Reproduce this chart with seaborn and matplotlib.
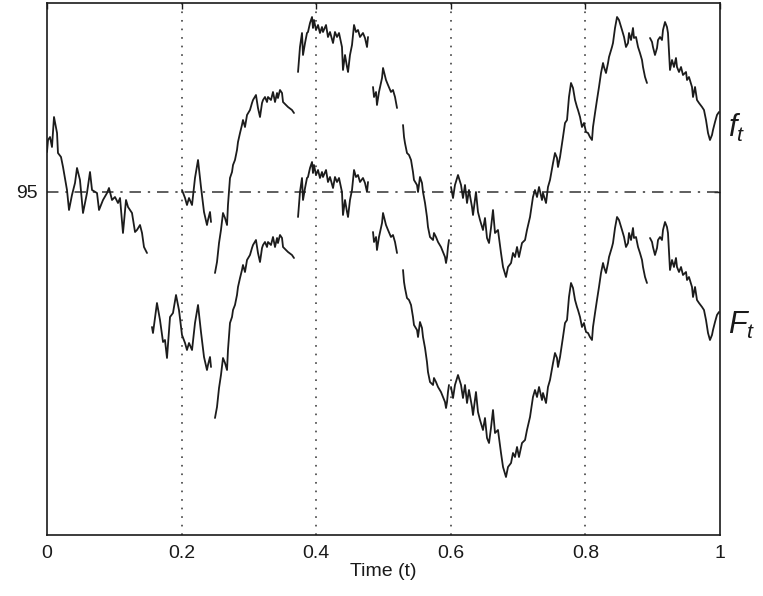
import numpy as np
import pandas as pd
import seaborn as sns
import matplotlib.pyplot as plt

# f_t (it jumps between pieces)
t_a = [0.000, 0.0015, 0.0045, 0.0074, 0.0104, 0.0149, 0.0163, 0.0208, 0.0238, 0.0297, 0.0327,
       0.0371, 0.0416, 0.0446, 0.0490, 0.0535, 0.0594, 0.0639, 0.0669, 0.0743, 0.0773, 0.0832,
       0.0892, 0.0921, 0.0966, 0.1010, 0.1055, 0.1085, 0.1129, 0.1174, 0.1204, 0.1263, 0.1308,
       0.1337, 0.1382, 0.1412, 0.1441, 0.1486]
f_a = [97.0, 97.6, 97.75, 97.25, 98.75, 97.95, 96.95, 96.75, 96.25, 95.1, 94.1,
       94.85, 95.45, 96.2, 95.6, 93.95, 94.95, 96.0, 95.1, 94.95, 94.1, 94.6,
       94.95, 95.2, 94.6, 94.75, 94.45, 94.7, 92.95, 94.6, 94.25, 93.95, 93.0,
       93.1, 93.35, 92.95, 92.25, 91.95]

t_b = [0.156, 0.1575, 0.1634, 0.1679, 0.1724, 0.1753, 0.1783, 0.1828, 0.1872, 0.1917, 0.1961,
       0.2006, 0.2051, 0.2080, 0.2110, 0.2155, 0.2199, 0.2244, 0.2288, 0.2333, 0.2377, 0.2392,
       0.2422, 0.2437]
f_b = [95.5, 95.2, 96.7, 95.85, 94.75, 94.85, 93.95, 96.0, 96.2, 97.1, 96.35,
       95.1, 94.7, 94.35, 94.7, 94.35, 95.7, 96.6, 95.25, 94.0, 93.35, 93.6,
       94.0, 93.5]

t_c = [0.2496, 0.2526, 0.2556, 0.2585, 0.2615, 0.2645, 0.2675, 0.2689, 0.2719, 0.2749, 0.2764,
       0.2793, 0.2823, 0.2838, 0.2868, 0.2897, 0.2912, 0.2942, 0.2972, 0.3016, 0.3046, 0.3061,
       0.3105, 0.3135, 0.3165, 0.3195, 0.3210, 0.3239, 0.3269, 0.3284, 0.3328, 0.3358, 0.3388,
       0.3418, 0.3432, 0.3462, 0.3492, 0.3507, 0.3551, 0.3581, 0.3640, 0.3670]
f_c = [90.95, 91.5, 92.45, 93.1, 93.95, 93.7, 93.35, 94.35, 95.7, 96.0, 96.35,
       96.6, 97.1, 97.5, 97.95, 98.35, 98.6, 98.25, 98.85, 99.1, 99.45, 99.6,
       99.85, 99.2, 98.75, 99.45, 99.6, 99.75, 99.5, 99.75, 99.6, 100.0, 99.5,
       99.95, 99.7, 100.1, 99.95, 99.5, 99.35, 99.25, 99.1, 98.95]

t_d = [0.3730, 0.3759, 0.3789, 0.3804, 0.3834, 0.3863, 0.3878, 0.3908, 0.3938, 0.3952, 0.3967,
       0.3997, 0.4027, 0.4056, 0.4086, 0.4101, 0.4146, 0.4175, 0.4205, 0.4250, 0.4279, 0.4309,
       0.4339, 0.4383, 0.4398, 0.4428, 0.4458, 0.4473, 0.4502, 0.4532, 0.4562, 0.4591, 0.4621,
       0.4651, 0.4695, 0.4725, 0.4755, 0.4770]
f_d = [101.0, 102.25, 102.95, 101.85, 102.45, 102.95, 103.0, 103.45, 103.75, 103.2, 103.6,
       103.1, 103.35, 102.95, 103.25, 103.0, 103.35, 102.75, 103.0, 102.45, 103.0, 102.75,
       102.95, 102.25, 101.1, 101.85, 101.25, 101.0, 101.85, 102.35, 103.35, 103.0, 103.1,
       102.75, 102.95, 102.7, 102.25, 102.75]

t_e = [0.4844, 0.4859, 0.4889, 0.4903, 0.4933, 0.4978, 0.4993, 0.5037, 0.5067, 0.5111, 0.5141,
       0.5171, 0.5201]
f_e = [100.25, 99.75, 100.0, 99.35, 100.0, 100.7, 101.2, 100.6, 100.35, 100.0, 100.1,
       99.75, 99.2]

t_f = [0.5290, 0.5305, 0.5319, 0.5349, 0.5379, 0.5409, 0.5438, 0.5453, 0.5498, 0.5513, 0.5542,
       0.5572, 0.5587, 0.5617, 0.5646, 0.5661, 0.5691, 0.5736, 0.5750, 0.5780, 0.5810, 0.5854,
       0.5884, 0.5914, 0.5929, 0.5944, 0.5958, 0.5973]
f_f = [98.35, 97.75, 97.45, 96.95, 96.85, 96.6, 96.0, 95.6, 95.35, 95.0, 95.75,
       95.45, 95.0, 94.45, 93.75, 93.25, 92.75, 92.6, 92.95, 92.75, 92.5, 92.25,
       92.0, 91.75, 91.45, 91.75, 92.25, 92.6]

t_g = [0.6003, 0.6033, 0.6062, 0.6107, 0.6152, 0.6181, 0.6211, 0.6241, 0.6270, 0.6315, 0.6330,
       0.6374, 0.6404, 0.6434, 0.6478, 0.6508, 0.6538, 0.6568, 0.6597, 0.6627, 0.6657, 0.6701,
       0.6746, 0.6776, 0.6820, 0.6850, 0.6895, 0.6924, 0.6954, 0.6984, 0.7013, 0.7058, 0.7103,
       0.7132, 0.7177, 0.7221, 0.7251, 0.7281, 0.7311, 0.7355, 0.7370, 0.7415, 0.7444, 0.7474,
       0.7519, 0.7548, 0.7578, 0.7593, 0.7623, 0.7667, 0.7697, 0.7727, 0.7756, 0.7786, 0.7816,
       0.7846, 0.7875, 0.7890, 0.7920, 0.7949, 0.7979, 0.8009, 0.8039, 0.8068, 0.8098, 0.8113,
       0.8143, 0.8172, 0.8202, 0.8232, 0.8262, 0.8276, 0.8306, 0.8336, 0.8351, 0.8395, 0.8410,
       0.8440, 0.8470, 0.8499, 0.8544, 0.8574, 0.8603, 0.8633, 0.8648, 0.8678, 0.8707, 0.8722,
       0.8752, 0.8782, 0.8811, 0.8841, 0.8856, 0.8886, 0.8915]
f_g = [95.25, 94.7, 95.35, 95.85, 95.35, 94.7, 95.35, 94.45, 95.1, 94.25, 93.85,
       95.0, 94.0, 93.6, 93.1, 93.7, 92.7, 92.45, 93.2, 94.1, 92.95, 93.1,
       91.95, 91.25, 90.75, 91.25, 91.45, 91.95, 91.75, 92.25, 91.75, 92.45, 92.6,
       93.1, 93.75, 94.75, 95.1, 94.75, 95.25, 94.6, 94.95, 94.45, 95.25, 95.6,
       96.45, 96.95, 96.7, 96.25, 96.75, 97.75, 98.45, 98.6, 99.75, 100.45, 100.2,
       99.6, 99.25, 99.1, 98.75, 98.25, 98.45, 98.0, 97.95, 97.75, 97.6, 98.25,
       98.95, 99.6, 100.25, 100.95, 101.45, 101.25, 100.95, 101.45, 101.75, 102.25, 102.45,
       103.2, 103.75, 103.6, 103.1, 102.75, 102.25, 102.45, 102.95, 102.6, 103.2, 102.7,
       102.75, 102.25, 101.95, 101.6, 101.25, 100.75, 100.45]

t_h = [0.8960, 0.8990, 0.9004, 0.9034, 0.9064, 0.9079, 0.9109, 0.9138, 0.9153, 0.9183, 0.9212,
       0.9227, 0.9257, 0.9287, 0.9316, 0.9346, 0.9361, 0.9391, 0.9421, 0.9450, 0.9495, 0.9510,
       0.9539, 0.9584, 0.9599, 0.9629, 0.9658, 0.9688, 0.9733, 0.9762, 0.9792, 0.9822, 0.9851,
       0.9881, 0.9896, 0.9926, 0.9955, 0.9985]
f_h = [102.7, 102.5, 102.25, 101.85, 102.2, 102.6, 102.75, 102.6, 103.1, 103.5, 103.25,
       102.95, 101.1, 101.6, 101.25, 101.7, 101.25, 101.0, 101.25, 100.85, 101.0, 100.6,
       100.75, 100.25, 99.75, 100.25, 99.6, 99.45, 99.25, 99.1, 98.6, 97.95, 97.6,
       97.85, 98.1, 98.5, 98.85, 99.0]

# how far F_t sits below f_t on each piece
pieces = ["a", "b", "c", "d", "e", "f", "g", "h"]
F_drop = [0.0, 7.25, 7.25, 7.25, 7.25, 7.25, 10.0, 10.0]
# f_t is not drawn before this time on piece b
f_b_start = 0.2

t_all = [t_a, t_b, t_c, t_d, t_e, t_f, t_g, t_h]
f_all = [f_a, f_b, f_c, f_d, f_e, f_f, f_g, f_h]

rows = []
for name, ts, fs, drop in zip(pieces, t_all, f_all, F_drop):
    for t, v in zip(ts, fs):
        if drop > 0:
            rows.append((t, v - drop, "F_" + name))
        if name != "b" or t >= f_b_start - 0.001:
            rows.append((t, v, "f_" + name))
df = pd.DataFrame(rows, columns=["t", "value", "unit"])

sns.set_theme(style="white")
plt.rcParams["font.family"] = ["Liberation Sans", "DejaVu Sans"]
plt.rcParams["mathtext.fontset"] = "custom"
plt.rcParams["mathtext.it"] = "Liberation Sans:italic"
plt.rcParams["mathtext.rm"] = "Liberation Sans"

fig = plt.figure(figsize=(7.63, 5.96), dpi=100)
ax = fig.add_axes([47 / 763, 61 / 596, 673 / 763, 532 / 596])

sns.lineplot(data=df, x="t", y="value", units="unit", estimator=None,
             color="#1c1c1c", lw=1.3, ax=ax, legend=False)

for x in [0.2, 0.4, 0.6, 0.8]:
    ax.axvline(x, color="#333333", lw=1.1, ls=(0, (1.1, 4.5)), zorder=1)
ax.axhline(95, color="#333333", lw=1.1, ls=(0, (7.5, 4.5, 1.5, 4.5)), zorder=1)

ax.set_xlim(0, 1)
ax.set_ylim(77.85, 104.45)
ax.set_xticks([0, 0.2, 0.4, 0.6, 0.8, 1])
ax.set_xticklabels(["0", "0.2", "0.4", "0.6", "0.8", "1"])
ax.set_yticks([95])
ax.set_yticklabels(["95"])
ax.tick_params(direction="in", top=True, right=True, length=4, width=1,
               labelsize=14, colors="#1a1a1a", pad=7)
ax.set_xlabel("Time (t)", fontsize=14, color="#1a1a1a", labelpad=1)
ax.set_ylabel("")
for s in ax.spines.values():
    s.set_color("#1a1a1a")
    s.set_linewidth(1.2)

fig.text(728 / 763, 1 - 128 / 596, r"$f_t$", fontsize=22, va="center", color="#1a1a1a")
fig.text(728 / 763, 1 - 325 / 596, r"$F_t$", fontsize=22, va="center", color="#1a1a1a")

fig.savefig("out.png", dpi=100)
